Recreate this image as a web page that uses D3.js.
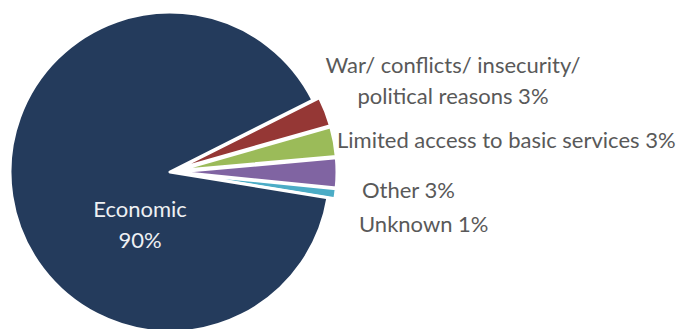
<!DOCTYPE html>
<html>
<head>
<meta charset="utf-8">
<script src="https://cdn.jsdelivr.net/npm/d3@7"></script>
<style>
  body { margin: 0; background: #fff; }
  svg text { font-family: Lato, "Open Sans", sans-serif; }
</style>
</head>
<body>
<div id="chart"></div>
<script>
// reasons for leaving, share of respondents (%)
const reasons = ["War/ conflicts/ insecurity/ political reasons", "Limited access to basic services", "Other", "Unknown", "Economic"];
const shares = [3, 3, 3, 1, 90];
const colors = ["#953735", "#9bbb59", "#8064a2", "#4bacc6", "#243b5c"];
// label lines as printed
const labelLines = [
    ["War/ conflicts/ insecurity/", "political reasons 3%"],
    ["Limited access to basic services 3%"],
    ["Other 3%"],
    ["Unknown 1%"],
    ["Economic", "90%"]
];

const width = 678, height = 329;
const cx = 170, cy = 172, radius = 160;
const explode = 7;

const data = reasons.map((r, i) => ({ reason: r, value: shares[i], color: colors[i], lines: labelLines[i] }));

const svg = d3.select("#chart").append("svg")
    .attr("width", width).attr("height", height);

const startDeg = 63.3;
const pie = d3.pie().sort(null).value(d => d.value)
    .startAngle(startDeg * Math.PI / 180)
    .endAngle((startDeg + 360) * Math.PI / 180);
const arc = d3.arc().innerRadius(0).outerRadius(radius);

const arcs = pie(data);
const g = svg.append("g").attr("transform", "translate(" + cx + "," + cy + ")");

g.selectAll("path").data(arcs).enter().append("path")
    .attr("d", arc)
    .attr("transform", d => {
        if (d.data.reason === "Economic") return null;
        const a = (d.startAngle + d.endAngle) / 2;
        return "translate(" + (Math.sin(a) * explode) + "," + (-Math.cos(a) * explode) + ")";
    })
    .style("fill", d => d.data.color)
    .style("stroke", "#fff")
    .style("stroke-width", 3)
    .style("stroke-linejoin", "round");

// label anchors (outside labels are placed like the original)
const labelPos = {
    "War/ conflicts/ insecurity/ political reasons": { x: 453, y: 73, anchor: "middle" },
    "Limited access to basic services": { x: 337, y: 148, anchor: "start" },
    "Other": { x: 362, y: 198, anchor: "start" },
    "Unknown": { x: 359, y: 232, anchor: "start" },
    "Economic": { x: 140, y: 217, anchor: "middle" }
};
const lineHeight = 31;

const labels = svg.append("g").selectAll("text").data(data).enter().append("text")
    .attr("x", d => labelPos[d.reason].x)
    .attr("y", d => labelPos[d.reason].y)
    .attr("text-anchor", d => labelPos[d.reason].anchor)
    .style("font-size", "22px")
    .style("fill", d => d.reason === "Economic" ? "#eef0f3" : "#595959");

labels.each(function (d) {
    const t = d3.select(this);
    d.lines.forEach((line, i) => {
        t.append("tspan")
            .attr("x", labelPos[d.reason].x)
            .attr("dy", i === 0 ? 0 : lineHeight)
            .text(line);
    });
});
</script>
</body>
</html>
